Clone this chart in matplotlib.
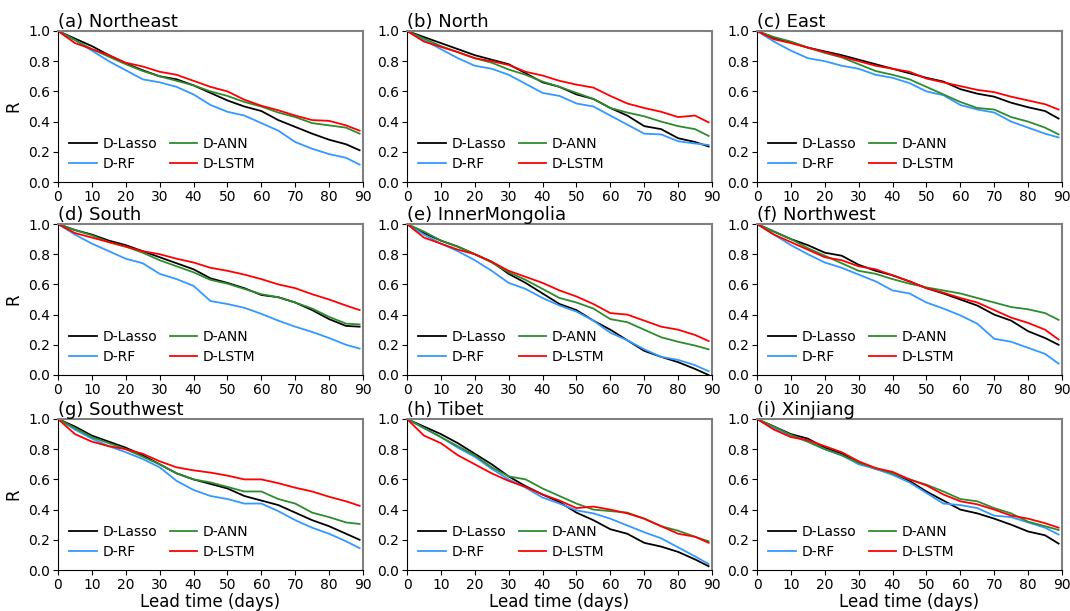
import matplotlib
matplotlib.use("Agg")
import matplotlib.pyplot as plt

LEAD = [0, 5, 10, 15, 20, 25, 30, 35, 40, 45, 50, 55, 60, 65, 70, 75, 80, 85, 89]
MODELS = ["D-Lasso", "D-RF", "D-ANN", "D-LSTM"]
TITLES = ["(a) Northeast", "(b) North", "(c) East", "(d) South", "(e) InnerMongolia",
          "(f) Northwest", "(g) Southwest", "(h) Tibet", "(i) Xinjiang"]

# (a) Northeast
ne_lasso = [1.0, 0.95, 0.90, 0.84, 0.785, 0.74, 0.70, 0.68, 0.64, 0.59, 0.54, 0.50, 0.47, 0.41, 0.365, 0.32, 0.28, 0.25, 0.21]
ne_rf    = [1.0, 0.94, 0.87, 0.80, 0.74, 0.68, 0.66, 0.63, 0.58, 0.51, 0.465, 0.44, 0.39, 0.34, 0.265, 0.22, 0.185, 0.16, 0.115]
ne_ann   = [1.0, 0.94, 0.88, 0.83, 0.78, 0.735, 0.70, 0.67, 0.64, 0.60, 0.57, 0.53, 0.50, 0.46, 0.43, 0.39, 0.375, 0.36, 0.32]
ne_lstm  = [1.0, 0.92, 0.88, 0.84, 0.79, 0.765, 0.73, 0.71, 0.67, 0.63, 0.60, 0.545, 0.505, 0.475, 0.44, 0.41, 0.405, 0.375, 0.34]
# (b) North
n_lasso = [1.0, 0.96, 0.92, 0.88, 0.84, 0.81, 0.78, 0.72, 0.66, 0.63, 0.58, 0.55, 0.49, 0.44, 0.37, 0.35, 0.29, 0.265, 0.235]
n_rf    = [1.0, 0.94, 0.88, 0.82, 0.77, 0.75, 0.71, 0.65, 0.59, 0.57, 0.52, 0.50, 0.44, 0.38, 0.32, 0.315, 0.27, 0.255, 0.245]
n_ann   = [1.0, 0.95, 0.90, 0.86, 0.82, 0.79, 0.745, 0.71, 0.665, 0.63, 0.59, 0.55, 0.49, 0.46, 0.435, 0.40, 0.37, 0.35, 0.305]
n_lstm  = [1.0, 0.93, 0.895, 0.86, 0.82, 0.80, 0.775, 0.73, 0.705, 0.67, 0.645, 0.625, 0.57, 0.52, 0.49, 0.465, 0.43, 0.44, 0.395]
# (c) East
e_lasso = [1.0, 0.955, 0.925, 0.89, 0.865, 0.84, 0.81, 0.78, 0.75, 0.72, 0.69, 0.665, 0.615, 0.585, 0.565, 0.525, 0.495, 0.47, 0.42]
e_rf    = [1.0, 0.93, 0.87, 0.82, 0.80, 0.77, 0.75, 0.71, 0.69, 0.655, 0.60, 0.575, 0.51, 0.48, 0.46, 0.40, 0.36, 0.32, 0.295]
e_ann   = [1.0, 0.96, 0.93, 0.89, 0.855, 0.825, 0.78, 0.735, 0.71, 0.68, 0.63, 0.58, 0.53, 0.49, 0.48, 0.43, 0.40, 0.36, 0.315]
e_lstm  = [1.0, 0.945, 0.92, 0.89, 0.86, 0.83, 0.80, 0.77, 0.75, 0.73, 0.685, 0.66, 0.635, 0.61, 0.595, 0.565, 0.54, 0.515, 0.48]
# (d) South
s_lasso = [1.0, 0.96, 0.93, 0.89, 0.86, 0.82, 0.78, 0.74, 0.70, 0.64, 0.61, 0.575, 0.53, 0.515, 0.48, 0.43, 0.37, 0.325, 0.32]
s_rf    = [1.0, 0.93, 0.87, 0.82, 0.77, 0.74, 0.67, 0.635, 0.59, 0.49, 0.47, 0.445, 0.405, 0.36, 0.32, 0.285, 0.245, 0.20, 0.175]
s_ann   = [1.0, 0.96, 0.925, 0.88, 0.85, 0.81, 0.76, 0.72, 0.68, 0.63, 0.605, 0.57, 0.535, 0.515, 0.48, 0.44, 0.385, 0.34, 0.335]
s_lstm  = [1.0, 0.94, 0.91, 0.88, 0.85, 0.82, 0.80, 0.77, 0.745, 0.71, 0.69, 0.665, 0.635, 0.60, 0.575, 0.535, 0.50, 0.46, 0.43]
# (e) InnerMongolia
im_lasso = [1.0, 0.94, 0.89, 0.85, 0.80, 0.75, 0.67, 0.61, 0.54, 0.47, 0.43, 0.36, 0.30, 0.23, 0.16, 0.12, 0.085, 0.04, 0.0]
im_rf    = [1.0, 0.93, 0.87, 0.82, 0.76, 0.69, 0.61, 0.57, 0.51, 0.46, 0.42, 0.36, 0.28, 0.23, 0.17, 0.12, 0.10, 0.065, 0.025]
im_ann   = [1.0, 0.95, 0.89, 0.85, 0.80, 0.745, 0.68, 0.63, 0.57, 0.51, 0.48, 0.44, 0.37, 0.35, 0.30, 0.25, 0.22, 0.195, 0.17]
im_lstm  = [1.0, 0.91, 0.87, 0.83, 0.80, 0.75, 0.69, 0.65, 0.61, 0.56, 0.52, 0.47, 0.41, 0.40, 0.36, 0.32, 0.30, 0.265, 0.225]
# (f) Northwest
nw_lasso = [1.0, 0.95, 0.90, 0.86, 0.81, 0.79, 0.73, 0.69, 0.66, 0.62, 0.575, 0.54, 0.50, 0.46, 0.40, 0.36, 0.29, 0.245, 0.20]
nw_rf    = [1.0, 0.93, 0.86, 0.80, 0.745, 0.71, 0.665, 0.62, 0.56, 0.54, 0.48, 0.44, 0.395, 0.34, 0.24, 0.22, 0.18, 0.14, 0.075]
nw_ann   = [1.0, 0.95, 0.90, 0.84, 0.79, 0.74, 0.69, 0.67, 0.635, 0.605, 0.58, 0.56, 0.54, 0.51, 0.48, 0.45, 0.435, 0.41, 0.365]
nw_lstm  = [1.0, 0.93, 0.88, 0.83, 0.78, 0.76, 0.72, 0.70, 0.66, 0.62, 0.575, 0.545, 0.51, 0.48, 0.43, 0.38, 0.345, 0.30, 0.235]
# (g) Southwest
sw_lasso = [1.0, 0.95, 0.89, 0.85, 0.81, 0.76, 0.70, 0.64, 0.60, 0.57, 0.54, 0.49, 0.46, 0.43, 0.38, 0.33, 0.29, 0.24, 0.20]
sw_rf    = [1.0, 0.93, 0.87, 0.82, 0.78, 0.735, 0.68, 0.59, 0.53, 0.49, 0.47, 0.44, 0.44, 0.39, 0.33, 0.28, 0.24, 0.19, 0.145]
sw_ann   = [1.0, 0.94, 0.88, 0.84, 0.80, 0.75, 0.70, 0.64, 0.60, 0.58, 0.55, 0.52, 0.52, 0.47, 0.44, 0.38, 0.35, 0.315, 0.305]
sw_lstm  = [1.0, 0.90, 0.85, 0.82, 0.80, 0.77, 0.72, 0.68, 0.66, 0.645, 0.625, 0.60, 0.60, 0.575, 0.545, 0.52, 0.485, 0.455, 0.425]
# (h) Tibet
tb_lasso = [1.0, 0.95, 0.90, 0.84, 0.77, 0.70, 0.62, 0.555, 0.50, 0.45, 0.38, 0.33, 0.27, 0.24, 0.18, 0.155, 0.12, 0.07, 0.025]
tb_rf    = [1.0, 0.94, 0.88, 0.81, 0.75, 0.67, 0.60, 0.545, 0.48, 0.44, 0.395, 0.375, 0.34, 0.295, 0.25, 0.21, 0.15, 0.09, 0.04]
tb_ann   = [1.0, 0.94, 0.88, 0.82, 0.76, 0.68, 0.62, 0.60, 0.54, 0.49, 0.44, 0.40, 0.39, 0.38, 0.34, 0.29, 0.26, 0.22, 0.19]
tb_lstm  = [1.0, 0.89, 0.84, 0.76, 0.70, 0.64, 0.59, 0.55, 0.50, 0.46, 0.41, 0.42, 0.40, 0.375, 0.34, 0.29, 0.24, 0.22, 0.18]
# (i) Xinjiang
xj_lasso = [1.0, 0.95, 0.90, 0.87, 0.81, 0.77, 0.71, 0.67, 0.64, 0.59, 0.52, 0.46, 0.40, 0.375, 0.34, 0.30, 0.255, 0.23, 0.175]
xj_rf    = [1.0, 0.94, 0.89, 0.85, 0.80, 0.76, 0.70, 0.67, 0.63, 0.58, 0.51, 0.44, 0.43, 0.41, 0.36, 0.35, 0.315, 0.28, 0.235]
xj_ann   = [1.0, 0.95, 0.895, 0.85, 0.80, 0.76, 0.71, 0.675, 0.64, 0.60, 0.565, 0.52, 0.47, 0.455, 0.41, 0.375, 0.32, 0.29, 0.265]
xj_lstm  = [1.0, 0.93, 0.88, 0.86, 0.82, 0.78, 0.72, 0.675, 0.65, 0.60, 0.56, 0.50, 0.455, 0.435, 0.40, 0.36, 0.34, 0.31, 0.28]

PANELS = [
    [ne_lasso, ne_rf, ne_ann, ne_lstm],
    [n_lasso, n_rf, n_ann, n_lstm],
    [e_lasso, e_rf, e_ann, e_lstm],
    [s_lasso, s_rf, s_ann, s_lstm],
    [im_lasso, im_rf, im_ann, im_lstm],
    [nw_lasso, nw_rf, nw_ann, nw_lstm],
    [sw_lasso, sw_rf, sw_ann, sw_lstm],
    [tb_lasso, tb_rf, tb_ann, tb_lstm],
    [xj_lasso, xj_rf, xj_ann, xj_lstm],
]
COLORS = ["#000000", "#3399ff", "#2e8b2e", "#ff0000"]

W, H = 1070, 611
fig = plt.figure(figsize=(W / 100, H / 100), dpi=100)

lefts = [58, 407, 757]
tops = [31, 224, 419]
aw, ah = 305, 151

for i, (title, series) in enumerate(zip(TITLES, PANELS)):
    r, c = divmod(i, 3)
    ax = fig.add_axes([lefts[c] / W, 1 - (tops[r] + ah) / H, aw / W, ah / H])
    for vals, name, col in zip(series, MODELS, COLORS):
        ax.plot(LEAD, vals, color=col, lw=1.3, label=name)
    ax.set_xlim(0, 90)
    ax.set_ylim(0, 1.0)
    ax.set_xticks(range(0, 91, 10))
    ax.set_yticks([0.0, 0.2, 0.4, 0.6, 0.8, 1.0])
    ax.set_yticklabels(["0.0", "0.2", "0.4", "0.6", "0.8", "1.0"])
    ax.tick_params(labelsize=10, length=3.5, width=0.8, pad=2)
    for s in ("top", "right"):
        ax.spines[s].set_color("#808080")
        ax.spines[s].set_linewidth(1.5)
    for s in ("left", "bottom"):
        ax.spines[s].set_color("#000000")
        ax.spines[s].set_linewidth(0.8)
    ax.set_title(title, loc="left", fontsize=13, pad=3)
    if c == 0:
        ax.set_ylabel("R", fontsize=12, labelpad=4)
    if r == 2:
        ax.set_xlabel("Lead time (days)", fontsize=12, labelpad=1)
    ax.legend(loc="lower left", ncol=2, frameon=False, fontsize=10,
              handlelength=2.0, handletextpad=0.4, columnspacing=0.9,
              labelspacing=0.4, borderaxespad=0.4)

fig.savefig("out.png", dpi=100)
